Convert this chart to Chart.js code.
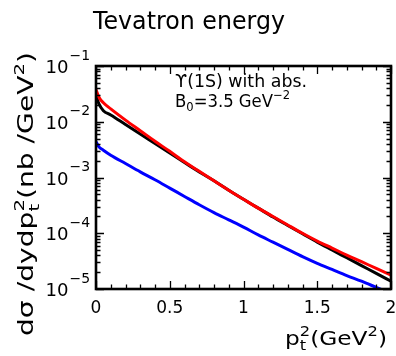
<!DOCTYPE html>
<html><head><meta charset="utf-8">
<script src="https://cdn.jsdelivr.net/npm/chart.js@4/dist/chart.umd.min.js"></script>
<style>html,body{margin:0;padding:0;background:#fff;overflow:hidden}#wrap{width:396px;height:356px}</style>
</head><body><div id="wrap"><canvas id="c" width="396" height="356"></canvas></div>
<script>
// p_t^2 grid (GeV^2)
const ptSquared = [0,0.02,0.05,0.1,0.2,0.3,0.4,0.5,0.6,0.7,0.8,0.9,1.0,1.1,1.2,1.3,1.4,1.5,1.6,1.7,1.8,1.9,2.0];
// dσ/dydp_t^2 (nb/GeV^2)
const redValues = [0.0380,0.0275,0.0219,0.0170,0.0107,0.00692,0.00447,0.00295,0.00191,0.00129,0.000871,0.000589,0.000407,0.000282,0.000200,0.000141,0.000100,0.0000724,0.0000543,0.0000407,0.0000309,0.0000234,0.0000178];
const blackValues = [0.0295,0.0209,0.0158,0.0132,0.00891,0.00603,0.00407,0.00275,0.00186,0.00126,0.000871,0.000589,0.000407,0.000282,0.000195,0.000138,0.0000977,0.0000692,0.0000501,0.0000363,0.0000263,0.0000191,0.0000138];
const blueValues = [0.00437,0.00355,0.00309,0.00251,0.00178,0.00126,0.000912,0.000646,0.000457,0.000324,0.000234,0.000174,0.000129,0.0000933,0.0000692,0.0000513,0.0000380,0.0000288,0.0000224,0.0000174,0.0000138,0.0000107,0.0000083];
// tick labels
const xTickValues = [0,0.5,1,1.5,2];
const xTickLabels = ['0','0.5','1','1.5','2'];
const yTickValues = [1e-1,1e-2,1e-3,1e-4,1e-5];
const yTickExponents = ['\u22121','\u22122','\u22123','\u22124','\u22125'];
const titleText = 'Tevatron energy';
const noteLine1 = '\u03D2(1S) with abs.';

const FAM = '"DejaVu Sans"';

function drawRich(ctx, parts, x0, y0, size, target, align){
  const items=[]; let x=0, prevStart=0, prevW=0;
  for (const [t,m] of parts){
    const s = m==='n'?size:size*0.7;
    ctx.font = s+'px '+FAM;
    const w = ctx.measureText(t).width;
    let sx = x;
    if (m==='supS'){ sx = prevStart; x = Math.max(prevStart+prevW, sx+w); }
    else x = sx + w;
    const dy = m==='sub'? size*0.28 : (m==='sup'||m==='supS') ? -size*0.45 : 0;
    items.push({t,s,sx,dy});
    prevStart = sx; prevW = w;
  }
  const total = x;
  const k = target ? target/total : 1;
  ctx.save();
  let ox = x0;
  if (align==='right') ox = x0 - total*k;
  else if (align==='center') ox = x0 - total*k/2;
  ctx.translate(ox, y0); ctx.scale(k,1);
  ctx.textBaseline='alphabetic'; ctx.textAlign='left'; ctx.fillStyle='#000';
  for (const it of items){ ctx.font = it.s+'px '+FAM; ctx.fillText(it.t, it.sx, it.dy); }
  ctx.restore();
}

const frameTicks = {
  id:'frameTicks',
  afterDraw(chart){
    const {ctx, chartArea:a, scales:{x,y}} = chart;
    ctx.save();
    ctx.strokeStyle='#000'; ctx.lineWidth=1.3;
    ctx.beginPath();
    for (let i=0;i<=20;i++){
      const px = Math.round(x.getPixelForValue(i/10))+0.5;
      const L = (i%5===0)?8:4.5;
      ctx.moveTo(px,a.bottom); ctx.lineTo(px,a.bottom-L);
      ctx.moveTo(px,a.top); ctx.lineTo(px,a.top+L);
    }
    for (let d=-5; d<=-1; d++){
      for (let m=1;m<=9;m++){
        if (d===-1 && m>1) break;
        const py = Math.round(y.getPixelForValue(m*Math.pow(10,d)))+0.5;
        const L = m===1?8:4.5;
        ctx.moveTo(a.left,py); ctx.lineTo(a.left+L,py);
        ctx.moveTo(a.right,py); ctx.lineTo(a.right-L,py);
      }
    }
    ctx.stroke();
    ctx.lineWidth=2.6;
    ctx.strokeRect(a.left,a.top,a.right-a.left,a.bottom-a.top);

    // x tick labels
    xTickValues.forEach((v,i)=>{
      drawRich(ctx, [[xTickLabels[i],'n']], x.getPixelForValue(v), a.bottom+24, 17, null, 'center');
    });
    // y tick labels
    yTickValues.forEach((v,i)=>{
      const py = y.getPixelForValue(v);
      drawRich(ctx, [['10','n']], 68.5, py+7, 17, 23, 'right');
      ctx.save(); ctx.font='14px '+FAM; ctx.fillStyle='#000'; ctx.textAlign='left'; ctx.textBaseline='alphabetic';
      ctx.fillText(yTickExponents[i], 69.5, py-6.5); ctx.restore();
    });
    // title
    drawRich(ctx, [[titleText,'n']], 93, 28.5, 25, 192, 'left');
    // annotation
    drawRich(ctx, [[noteLine1,'n']], 175, 87, 17.5, 132, 'left');
    drawRich(ctx, [['B','n'],['0','sub'],['=3.5 GeV','n'],['\u22122','sup']], 175, 106.5, 17.5, 115, 'left');
    // x axis title
    drawRich(ctx, [['p','n'],['t','sub'],['2','supS'],['(GeV','n'],['2','sup'],[')','n']], 387, 345, 19, 102, 'right');
    // y axis title
    ctx.save();
    ctx.translate(33, 336); ctx.rotate(-Math.PI/2);
    drawRich(ctx, [['d\u03C3 /dydp','n'],['t','sub'],['2','supS'],['(nb /GeV','n'],['2','sup'],[')','n']], 0, 0, 21, 284, 'left');
    ctx.restore();
    ctx.restore();
  }
};

const mk = (vals)=>ptSquared.map((p,i)=>({x:p,y:vals[i]}));
new Chart(document.getElementById('c'), {
  type:'line',
  data:{datasets:[
    {label:'red', data:mk(redValues), borderColor:'#ff0000', borderWidth:3, pointRadius:0, cubicInterpolationMode:'monotone', fill:false},
    {label:'black', data:mk(blackValues), borderColor:'#000000', borderWidth:3, pointRadius:0, cubicInterpolationMode:'monotone', fill:false},
    {label:'blue', data:mk(blueValues), borderColor:'#0000ff', borderWidth:3, pointRadius:0, cubicInterpolationMode:'monotone', fill:false}
  ]},
  options:{
    responsive:false, maintainAspectRatio:false, animation:false, devicePixelRatio:1,
    layout:{padding:{left:96,right:5,top:66,bottom:67}},
    plugins:{legend:{display:false}, tooltip:{enabled:false}, title:{display:false}},
    scales:{
      x:{type:'linear', min:0, max:2, display:false},
      y:{type:'logarithmic', min:1e-5, max:1e-1, display:false}
    }
  },
  plugins:[frameTicks]
});
</script>
</body></html>
